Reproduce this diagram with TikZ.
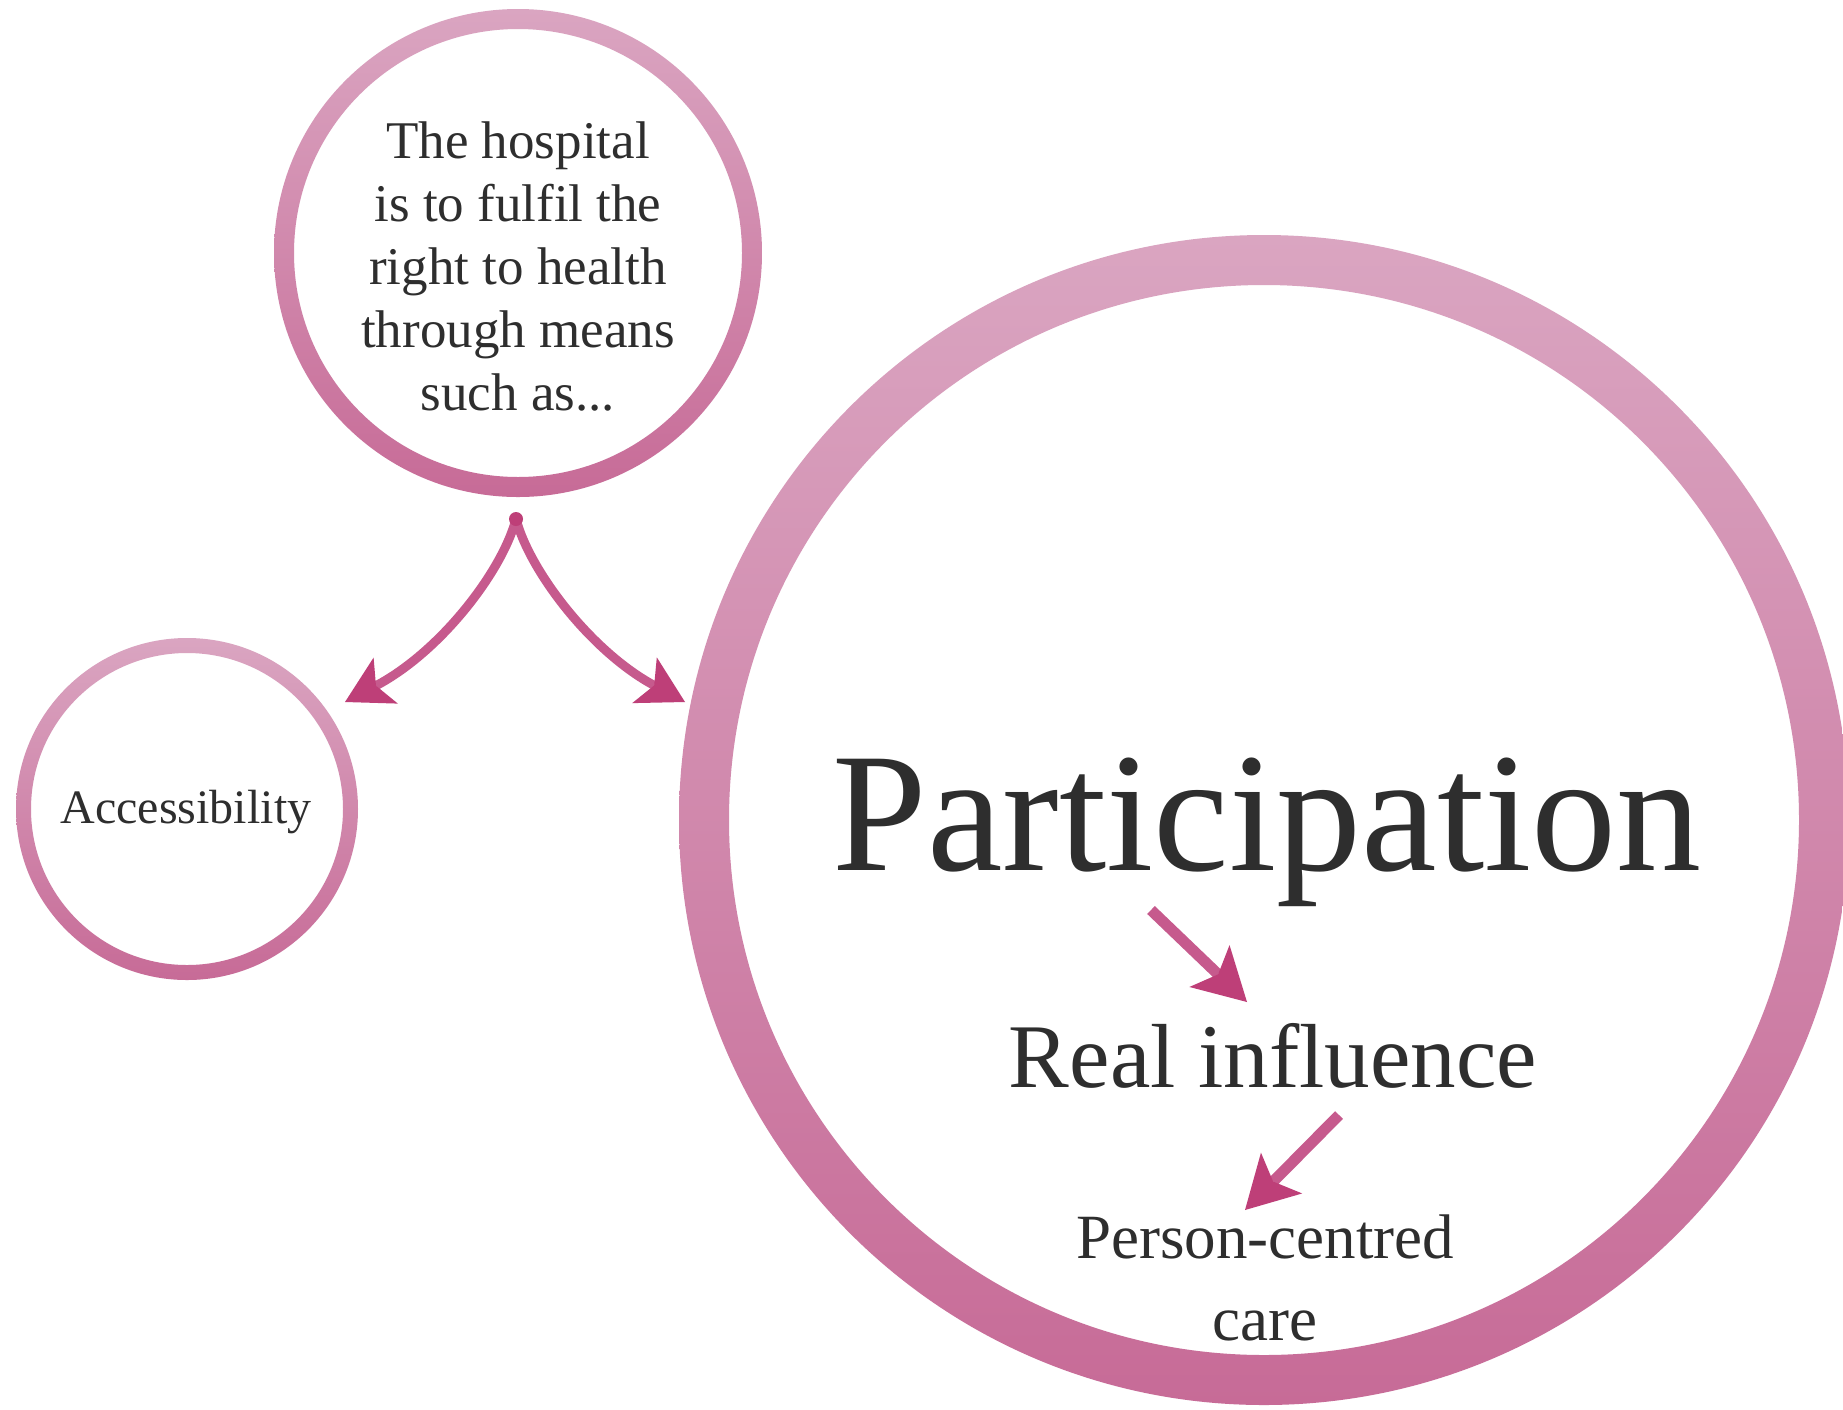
\documentclass[tikz,border=0pt]{standalone}
\usepackage{fontspec}
\setmainfont{Liberation Serif}
\usetikzlibrary{arrows.meta}
\definecolor{ringtop}{HTML}{DAA5C1}
\definecolor{ringbot}{HTML}{C76B97}
\definecolor{arrowcol}{HTML}{C65A8D}
\definecolor{headcol}{HTML}{BE3F78}
\definecolor{txtcol}{HTML}{2E2E2E}
\tikzset{
  curvehead/.tip={Stealth[length=46pt,width=52pt,inset=11pt,color=headcol,line width=0pt]},
  straighthead/.tip={Stealth[length=52pt,width=58pt,inset=12pt,color=headcol,line width=0pt]}
}
\begin{document}
\begin{tikzpicture}[x=1pt,y=-1pt,
  ringnode/.style={circle, inner sep=0pt, draw=none},
  txt/.style={text=txtcol, inner sep=0pt, align=center},
  ringshade/.style={top color=ringtop, bottom color=ringbot, even odd rule},
  curvearrow/.style={draw=arrowcol, line width=9pt, -curvehead},
  straightarrow/.style={draw=arrowcol, line width=11pt, -straighthead}
]
\useasboundingbox (0,0) rectangle (1843,1409);
\fill[white] (0,0) rectangle (1843,1409);

% circles
\node[ringnode, minimum size=488pt] (hosp) at (518,253) {};
\node[ringnode, minimum size=342pt] (access) at (187,809) {};
\node[ringnode, minimum size=1170pt] (part) at (1264,820) {};

\shade[ringshade] (hosp.center) circle[radius=244pt] (hosp.center) circle[radius=224pt];
\shade[ringshade] (access.center) circle[radius=171pt] (access.center) circle[radius=156pt];
\shade[ringshade] (part.center) circle[radius=585pt] (part.center) circle[radius=535pt];

% texts
\node[txt, font=\fontsize{53}{63}\selectfont] (hosptext) at (518,266)
  {The hospital\\is to fulfil the\\right to health\\through means\\such as...};
\node[txt, anchor=base, font=\fontsize{48}{56}\selectfont] (accesstext) at (186,823) {Accessibility};
\node[txt, anchor=base, font=\fontsize{170}{190}\selectfont] (parttext) at (1267,870) {Participation};
\node[txt, anchor=base, font=\fontsize{91}{104}\selectfont] (realtext) at (1273,1087) {Real influence};
\node[txt, font=\fontsize{63}{82}\selectfont] (pcctext) at (1265,1278) {Person-centred\\care};

% curved connectors
\coordinate (src) at (516,519);
\coordinate (tipL) at (345,702);
\coordinate (tipR) at (685,702);
\draw[curvearrow] (src) .. controls (502,572) and (440,652) .. (tipL);
\draw[curvearrow] (src) .. controls (530,572) and (592,652) .. (tipR);
\fill[headcol] (src) circle[radius=7pt];

% straight connectors
\coordinate (a1s) at (1151,910);
\coordinate (a1e) at (1247,1002);
\coordinate (a2s) at (1339,1115);
\coordinate (a2e) at (1245,1210);
\draw[straightarrow] (a1s) -- (a1e);
\draw[straightarrow] (a2s) -- (a2e);
\end{tikzpicture}
\end{document}
